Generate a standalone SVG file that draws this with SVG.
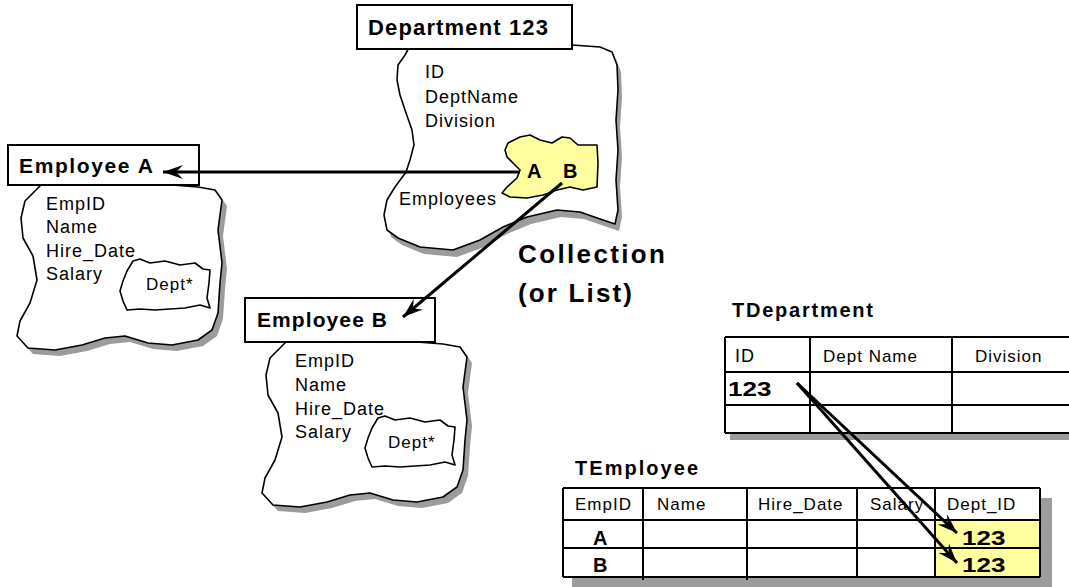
<svg xmlns="http://www.w3.org/2000/svg" xmlns:xlink="http://www.w3.org/1999/xlink" width="1069" height="587" viewBox="0 0 1069 587">
<style>
.f{font-family:"Liberation Sans",Arial,sans-serif;font-size:18px;letter-spacing:1px;fill:#000}
.s{font-family:"Liberation Sans",Arial,sans-serif;font-size:17px;letter-spacing:1px;fill:#000}
.b{font-family:"Liberation Sans",Arial,sans-serif;font-weight:bold;fill:#000}
.box{fill:#fff;stroke:#000;stroke-width:2}
.blob{fill:#fff;stroke:#000;stroke-width:1.6;stroke-linejoin:round}
.shadow{fill:#9c9c9c}
.grid{stroke:#000;stroke-width:2;fill:none}
.conn{stroke:#000;stroke-width:3;fill:none;marker-end:url(#ah)}
.yel{fill:#ffffa0}
</style>
<defs>
<marker id="ah" markerUnits="userSpaceOnUse" markerWidth="22" markerHeight="16" refX="20" refY="8" orient="auto" viewBox="0 0 22 16">
<path d="M0,1 L20,8 L0,15 L7,8 Z" fill="#000"/>
</marker>
<path id="empBlob" d="M45,40 L38,47 L25,60 L21,77 L23,97 L33,115 L37,139 L30,162 L20,180 L17,195 L28,207 L55,209 L82,204 L105,197 L125,195 L148,202 L172,204 L198,199 L212,189 L218,172 L220,142 L222,122 L218,89 L222,59 L215,49 L198,46 L172,44 L172,40 Z"/>
<path id="deptStar" d="M133,120 L140,118 L150,122 L165,120 L180,124 L195,122 L203,128 L210,129 L209,142 L207,157 L210,167 L200,164 L185,167 L170,168 L155,169 L140,168 L127,169 L123,160 L120,150 L123,140 L127,130 Z"/>
</defs>
<rect width="1069" height="587" fill="#fff"/>

<g id="department">
<path class="shadow" transform="translate(4,7)" d="M410,46 L405,55 L398,65 L397,80 L400,95 L405,110 L412,130 L414,145 L410,160 L406,172 L395,187 L387,200 L384,215 L387,230 L398,238 L420,247 L453,250 L480,240 L503,227 L527,217 L557,210 L580,212 L603,220 L615,224 L618,210 L616,180 L618,150 L616,120 L618,90 L617,65 L612,52 L600,47 L572,45 Z"/>
<path class="blob" d="M410,46 L405,55 L398,65 L397,80 L400,95 L405,110 L412,130 L414,145 L410,160 L406,172 L395,187 L387,200 L384,215 L387,230 L398,238 L420,247 L453,250 L480,240 L503,227 L527,217 L557,210 L580,212 L603,220 L615,224 L618,210 L616,180 L618,150 L616,120 L618,90 L617,65 L612,52 L600,47 L572,45 Z"/>
<rect class="box" x="357" y="5" width="215" height="44"/>
<text class="b" x="368" y="35" font-size="22" textLength="180" lengthAdjust="spacing">Department 123</text>
<text class="f" x="425" y="78">ID</text>
<text class="f" x="425" y="103">DeptName</text>
<text class="f" x="425" y="127">Division</text>
<text class="f" x="399" y="205">Employees</text>
<path d="M508,143 L520,137 L530,135 L540,140 L552,143 L562,137 L570,138 L578,145 L597,145 L598,163 L597,187 L583,190 L570,187 L557,190 L543,195 L527,198 L510,197 L502,193 L507,187 L517,178 L520,170 L513,163 L507,157 L505,150 Z" fill="#ffffa0" stroke="#000" stroke-width="1.6" stroke-linejoin="round"/>
<text class="b" x="527" y="178" font-size="20">A</text>
<text class="b" x="563" y="178" font-size="20">B</text>
</g>

<g id="employee-a">
<g transform="translate(0,141)">
<use xlink:href="#empBlob" class="shadow" transform="translate(5,6)"/>
<use xlink:href="#empBlob" class="blob"/>
<text class="f" x="46" y="69">EmpID</text>
<text class="f" x="46" y="92">Name</text>
<text class="f" x="46" y="116">Hire_Date</text>
<text class="f" x="46" y="139">Salary</text>
<use xlink:href="#deptStar" class="blob"/>
<text class="s" x="146" y="149">Dept*</text>
</g>
<rect class="box" x="8" y="145" width="191" height="40"/>
<text class="b" x="19" y="173" font-size="21" textLength="134" lengthAdjust="spacing">Employee A</text>
</g>

<g id="employee-b">
<g transform="translate(245,298)">
<use xlink:href="#empBlob" class="shadow" transform="translate(5,6)"/>
<use xlink:href="#empBlob" class="blob"/>
<text class="f" x="50" y="69">EmpID</text>
<text class="f" x="50" y="93">Name</text>
<text class="f" x="50" y="117">Hire_Date</text>
<text class="f" x="50" y="140">Salary</text>
<use xlink:href="#deptStar" class="blob"/>
<text class="s" x="143" y="150">Dept*</text>
</g>
<rect class="box" x="245" y="298" width="190" height="44"/>
<text class="b" x="257" y="327" font-size="21" textLength="130" lengthAdjust="spacing">Employee B</text>
</g>

<g id="collection-label">
<text class="b" x="518" y="263" font-size="26" textLength="147" lengthAdjust="spacing">Collection</text>
<text class="b" x="518" y="302" font-size="26" textLength="114" lengthAdjust="spacing">(or List)</text>
</g>

<g id="tdepartment">
<text class="b" x="732" y="317" font-size="20" textLength="141" lengthAdjust="spacing">TDepartment</text>
<rect class="shadow" x="730" y="434" width="345" height="6"/>
<rect x="725" y="337" width="350" height="96" fill="#fff"/>
<path class="grid" d="M725,337 H1075 M725,372 H1075 M725,405 H1075 M725,433 H1075 M725,337 V433 M810,337 V433 M952,337 V433"/>
<text class="f" x="735" y="362">ID</text>
<text class="s" x="823" y="362">Dept Name</text>
<text class="s" x="975" y="362">Division</text>
<text class="b" transform="translate(728,396) scale(1.3,1)" font-size="20">123</text>
</g>

<g id="temployee">
<text class="b" x="575" y="475" font-size="20" textLength="123" lengthAdjust="spacing">TEmployee</text>
<rect class="shadow" x="1040" y="498" width="12" height="89"/>
<rect class="shadow" x="572" y="577" width="480" height="10"/>
<rect x="563" y="488" width="477" height="89" fill="#fff"/>
<rect class="yel" x="935" y="520" width="105" height="57"/>
<path class="grid" d="M563,488 H1040 M563,520 H1040 M563,548 H1040 M563,577 H1040 M563,488 V577 M643,488 V580 M747,488 V580 M857,488 V577 M935,488 V577 M1040,488 V577"/>
<text class="s" x="575" y="510">EmpID</text>
<text class="s" x="657" y="510">Name</text>
<text class="s" x="758" y="510">Hire_Date</text>
<text class="s" x="870" y="510">Salary</text>
<text class="s" x="947" y="510">Dept_ID</text>
<text class="b" x="593" y="545" font-size="20">A</text>
<text class="b" x="593" y="572" font-size="20">B</text>
<text class="b" transform="translate(962,545) scale(1.3,1)" font-size="20">123</text>
<text class="b" transform="translate(962,572) scale(1.3,1)" font-size="20">123</text>
</g>

<g id="connectors">
<path class="conn" d="M520,172 L163,172"/>
<path class="conn" d="M562,183 L403,317"/>
<path class="conn" d="M797,383 L957,533"/>
<path class="conn" d="M797,383 L957,563"/>
</g>
</svg>
